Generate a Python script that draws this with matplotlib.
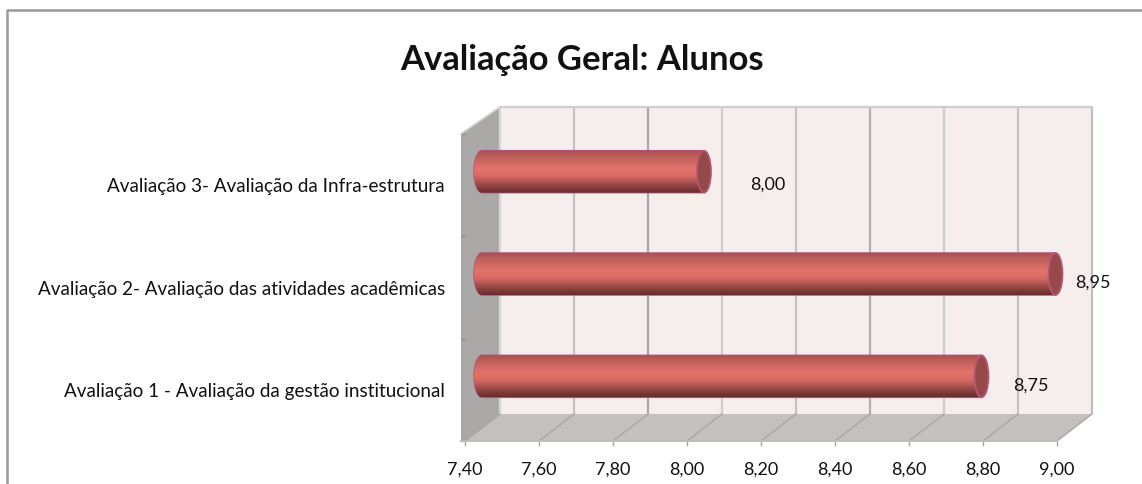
import numpy as np
import matplotlib
matplotlib.use("Agg")
import matplotlib.pyplot as plt
from matplotlib.patches import Ellipse, Polygon
from matplotlib.colors import LinearSegmentedColormap
from matplotlib.ticker import FixedLocator, FuncFormatter
from matplotlib.transforms import Affine2D

categories = ["Avaliação 1 - Avaliação da gestão institucional",
              "Avaliação 2- Avaliação das atividades acadêmicas",
              "Avaliação 3- Avaliação da Infra-estrutura"]
values = [8.75, 8.95, 8.00]
value_labels = ["8,75", "8,95", "8,00"]
xticks = [7.4, 7.6, 7.8, 8.0, 8.2, 8.4, 8.6, 8.8, 9.0]
title = "Avaliação Geral: Alunos"

W, H = 1142, 484
plt.rcParams["font.family"] = ["Lato", "DejaVu Sans"]
fig = plt.figure(figsize=(W / 100, H / 100), dpi=100, facecolor="white")
L, R, T, B = 465, 1057, 134, 441
ax = fig.add_axes([L / W, 1 - B / H, (R - L) / W, (B - T) / H])
ax.set_facecolor("none")
for s in ax.spines.values():
    s.set_visible(False)

# outer frame: left and top edges only
fig.add_artist(plt.Line2D([7 / W, 7 / W, 1], [0, 1 - 10 / H, 1 - 10 / H],
                          transform=fig.transFigure, color="#9A9A9A", lw=1.8))

DX, DY = 35, 27
fx, fy = DX / (R - L), DY / (B - T)
sx = -4 / (R - L)
back = ax.transData + Affine2D().translate(DX, DY)
mid = ax.transData + Affine2D().translate(17, 13.5)

# walls
ax.add_patch(Polygon([(fx, fy), (1 + fx, fy), (1 + fx, 1 + fy), (fx, 1 + fy)], transform=ax.transAxes,
                     fc="#F6EDED", ec="none", zorder=1, clip_on=False))
ax.add_patch(Polygon([(0, 0), (1, 0), (1 + fx, fy), (fx, fy)], transform=ax.transAxes,
                     fc="#C5C0C0", ec="none", zorder=1.1, clip_on=False))
ax.add_patch(Polygon([(sx, 0), (0, 0), (fx, fy), (fx, 1 + fy), (sx, 1)], transform=ax.transAxes,
                     fc="#ABA8A8", ec="none", zorder=1.1, clip_on=False))

# grid
grid_cols = ["#D8D6D6", "#C4C2C2", "#A8A8A8", "#CFCDCD", "#C4C2C2", "#B0B0B0", "#CFCDCD", "#C4C2C2", "#C0BEBE"]
for i, t in enumerate(xticks):
    ax.plot([t, t], [-0.5, 2.5], transform=back, color=grid_cols[i], lw=1.6, zorder=2,
            clip_on=False, solid_capstyle="butt")
    xa = (t - 7.4) / 1.6
    ax.plot([xa, xa + fx], [0, fy], transform=ax.transAxes, color="#A9A6A6", lw=1.0, zorder=2, clip_on=False)
ax.plot([fx, 1 + fx], [1 + fy, 1 + fy], transform=ax.transAxes, color="#CFCDCD", lw=1.6, zorder=2, clip_on=False)
ax.plot([sx, 1], [0, 0], transform=ax.transAxes, color="#BDBBBB", lw=1.4, zorder=2, clip_on=False)
ax.plot([sx, fx], [1, 1 + fy], transform=ax.transAxes, color="#CFCDCD", lw=1.2, zorder=2, clip_on=False)

# cylinders
cmap = LinearSegmentedColormap.from_list("cyl", [(0, "#A8524F"), (0.12, "#BC5E59"), (0.42, "#E4746C"),
                                                 (0.6, "#D56A63"), (0.85, "#8C4240"), (1, "#662C2C")])
grad = np.linspace(0, 1, 128).reshape(-1, 1)
h = 0.41
capw = 0.038
theta = np.linspace(np.pi / 2, 3 * np.pi / 2, 40)
for i, v in enumerate(values):
    x0 = 7.4 - 0.0215
    outline = np.vstack([np.column_stack([7.4 + 0.0215 * np.cos(theta), i + h / 2 * np.sin(theta)]),
                         [[v, i - h / 2], [v, i + h / 2]]])
    body = ax.add_patch(Polygon(outline, closed=True, transform=mid, fc="#D56A63", ec="#B0527A", lw=1.1,
                                zorder=3, clip_on=False))
    im = ax.imshow(grad, cmap=cmap, aspect="auto", extent=(x0, v, i - h / 2, i + h / 2), origin="upper",
                   transform=mid, zorder=3.1)
    im.set_clip_path(body)
    ax.add_patch(Ellipse((v, i), capw, h, transform=mid, fc="#964A47", ec="#B8557E", lw=1.2, zorder=3.3,
                         clip_on=False))

# value labels
label_pos = [(1013 - 465, 386), (1075 - 465, 283), (750 - 465, 185)]
for (px, py), s in zip(label_pos, value_labels):
    ax.annotate(s, xy=(px / (R - L), 1 - (py - T) / (B - T)), xycoords="axes fraction", fontsize=13,
                ha="left", va="center", color="#111111", zorder=5, annotation_clip=False)

# axes ticks
ax.set_xticks(xticks)
ax.xaxis.set_major_formatter(FuncFormatter(lambda x, p: f"{x:.2f}".replace(".", ",")))
ax.tick_params(axis="x", length=3.5, width=1, color="#A9A6A6", labelsize=13, pad=11, labelcolor="#111111",
               direction="out")
ax.set_yticks(range(3))
ax.set_yticklabels(categories)
ax.tick_params(axis="y", which="major", length=0, labelsize=13.55, pad=14.5, labelcolor="#111111")
ax.yaxis.set_minor_locator(FixedLocator([-0.5, 0.5, 1.5, 2.5]))
ax.tick_params(axis="y", which="minor", length=3, width=1, color="#8C8C8C")
ax.set_xlim(7.4, 9.0)
ax.set_ylim(-0.5, 2.5)

fig.text(581.5 / W, 1 - 60 / H, title, fontsize=24.9, fontweight="bold", ha="center", va="center", color="#111111")
fig.savefig("out.png", dpi=100)
